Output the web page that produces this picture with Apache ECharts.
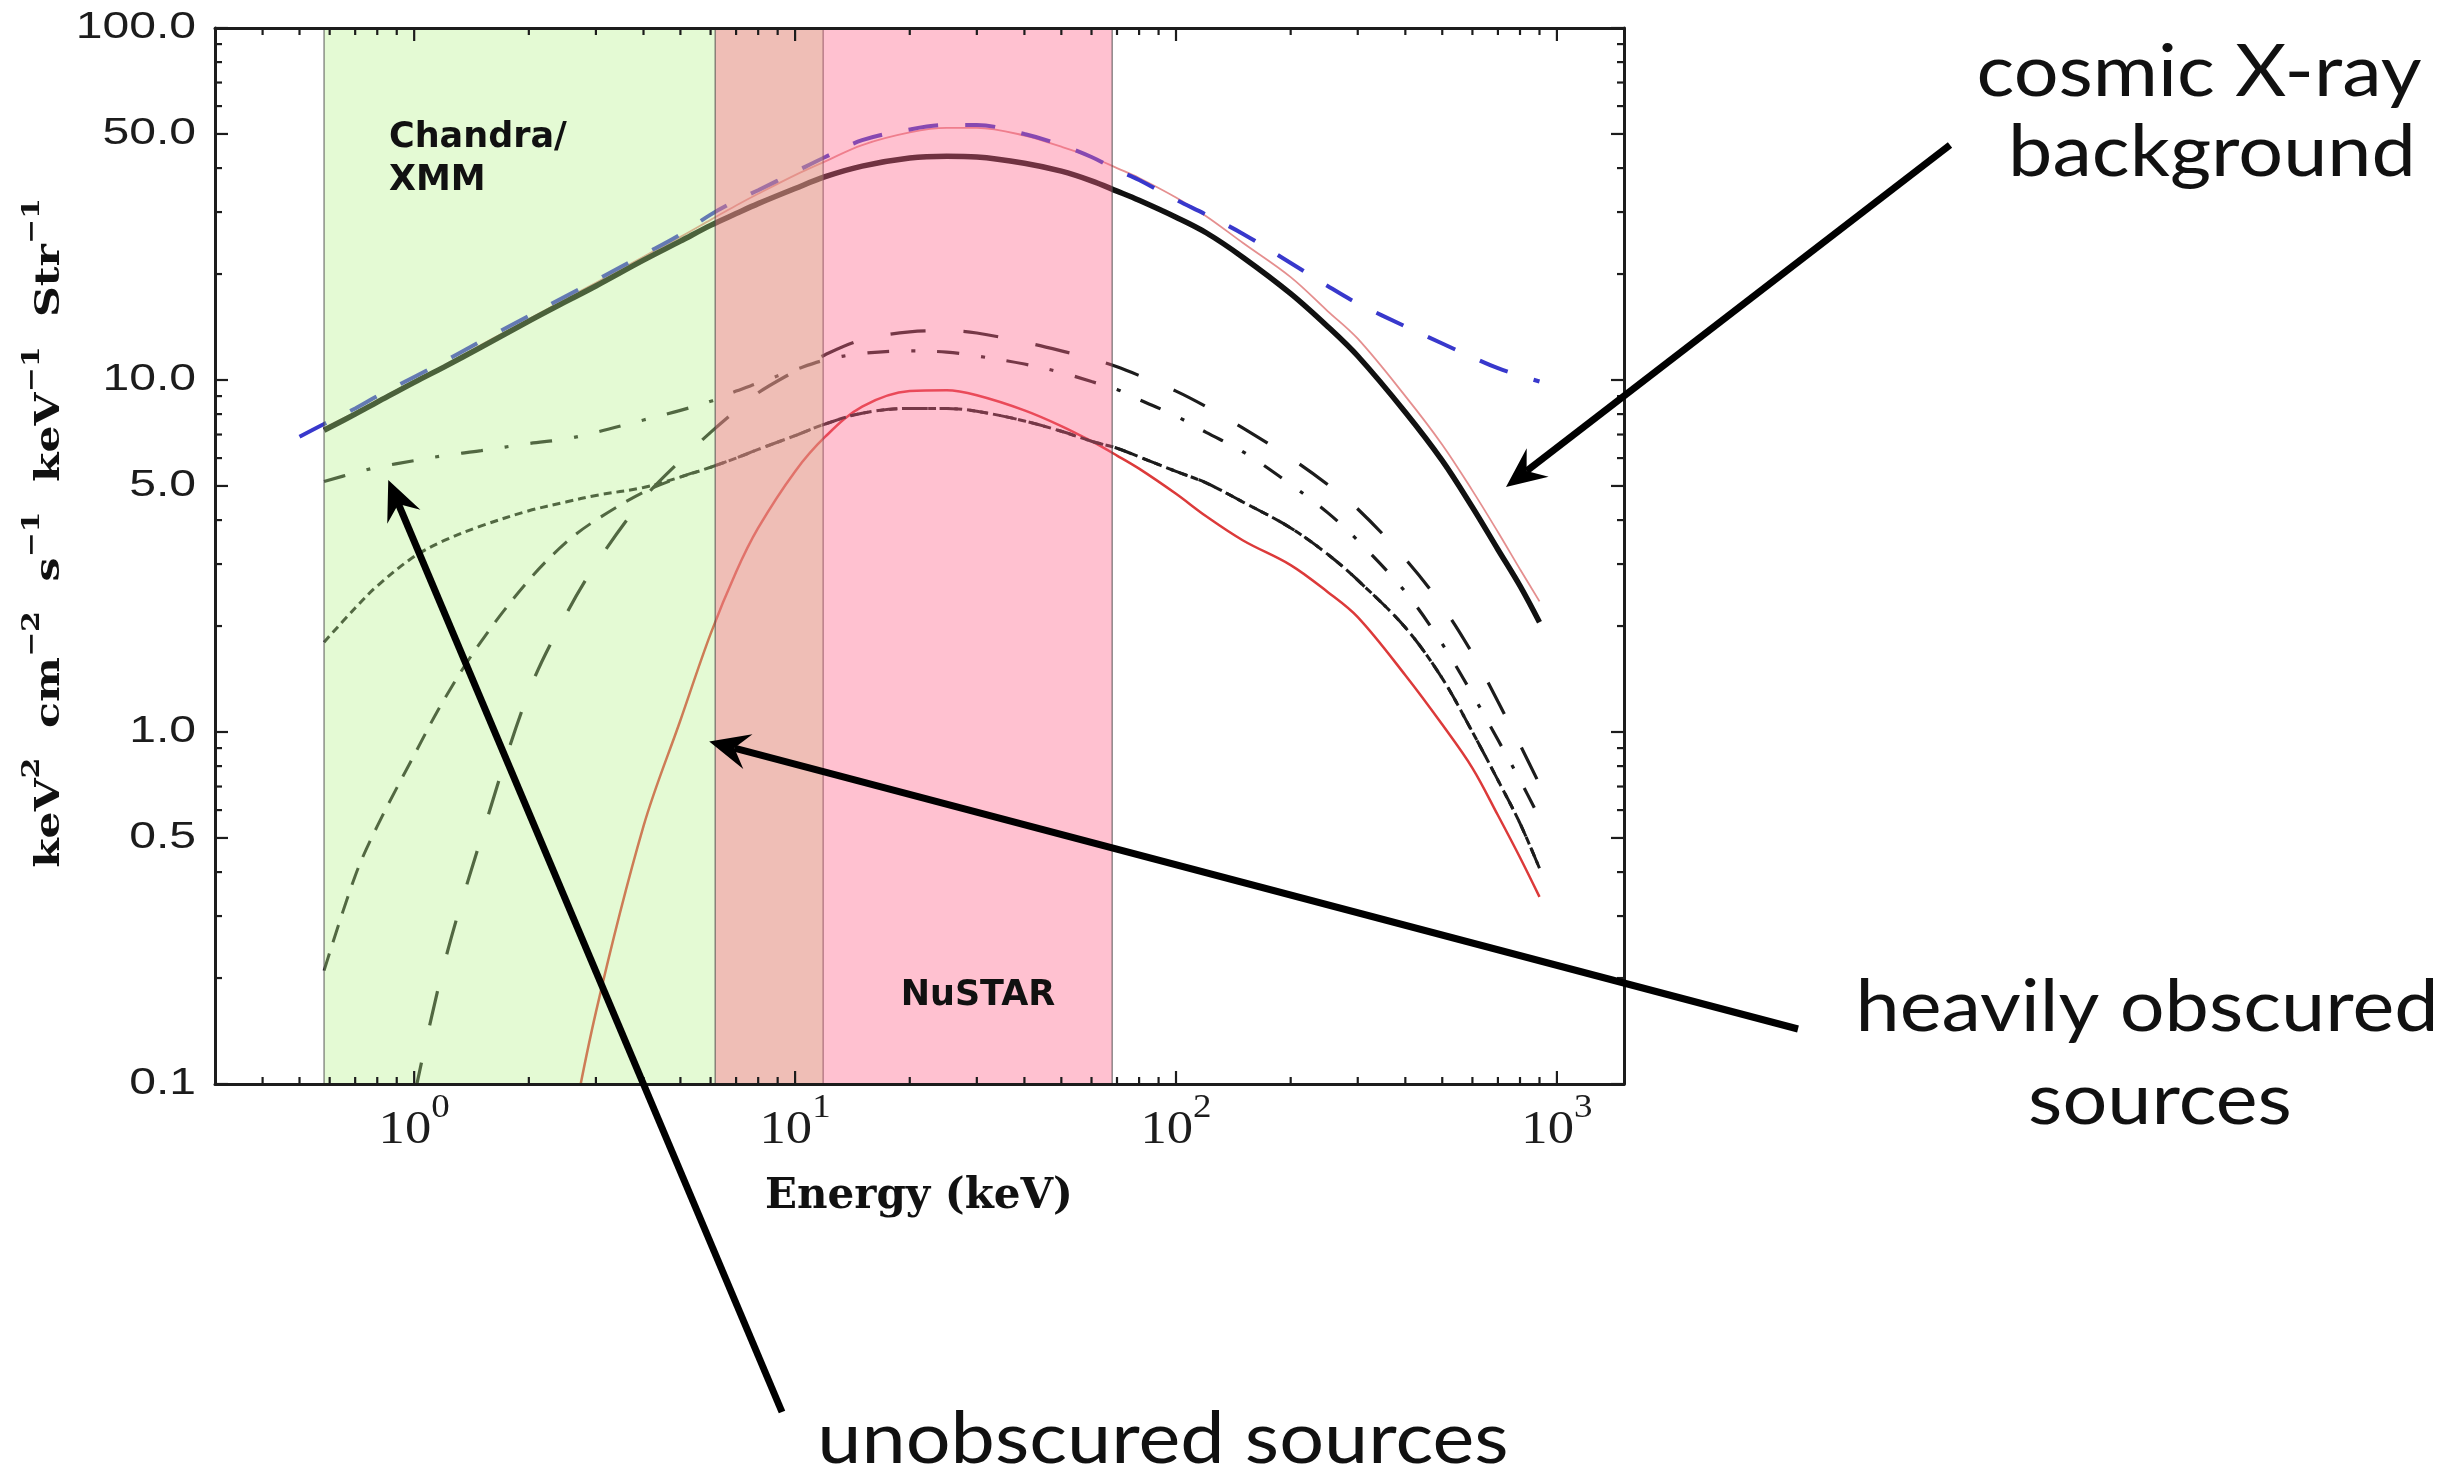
<!DOCTYPE html>
<html>
<head>
<meta charset="utf-8">
<script src="https://cdn.jsdelivr.net/npm/echarts@6/dist/echarts.min.js"></script>
<style>
html,body{margin:0;padding:0;background:#ffffff;}
#chart{width:2460px;height:1470px;}
</style>
</head>
<body>
<div id="chart"></div>
<script>
// ---------------- data ----------------
const energy = [0.5, 0.58, 0.7, 0.8, 1, 1.2, 1.5, 2, 2.5, 3, 4, 5, 6, 7, 8, 10, 12, 15, 20, 25, 30, 40, 50, 60, 70, 80, 100, 120, 150, 200, 250, 300, 400, 500, 600, 700, 800, 900];

// blue dashed: observed CXB
const cxbObserved = [6.9, 7.5, 8.3, 9.0, 10.2, 11.3, 12.9, 15.2, 17.3, 19.2, 22.7, 25.9, 29.5, 32.3, 34.6, 39, 43, 48, 51.5, 53, 53, 50, 46.5, 43, 39.5, 37, 32.5, 29.5, 26, 21.5, 18.5, 16.5, 14.2, 12.7, 11.6, 10.8, 10.3, 9.9];
// thin red solid: total model
const cxbTotal = [null, 7.3, 8.1, 8.75, 9.95, 11.0, 12.6, 14.9, 17.0, 18.9, 22.4, 25.5, 28.5, 31.3, 33.8, 38.2, 41.8, 46.5, 50.5, 52, 52, 49.5, 46, 43, 40, 37.5, 33, 29.2, 24.5, 19.6, 15.7, 13.1, 9.0, 6.55, 4.85, 3.7, 2.9, 2.35];
// thick black solid: AGN total
const agnTotal = [null, 7.2, 8.0, 8.65, 9.85, 10.9, 12.4, 14.7, 16.7, 18.5, 21.9, 24.8, 27.5, 29.7, 31.7, 35.0, 37.8, 40.5, 42.7, 43.2, 43.0, 41.3, 39.2, 36.8, 34.4, 32.4, 29.0, 26.2, 22.3, 17.6, 14.2, 11.7, 8.1, 5.9, 4.35, 3.3, 2.6, 2.05];
// dash-dot: unobscured sources
const unobscured = [null, 5.15, 5.45, 5.65, 5.9, 6.1, 6.3, 6.6, 6.8, 7.1, 7.7, 8.2, 8.7, 9.3, 9.8, 10.7, 11.4, 11.9, 12.1, 12.0, 11.7, 11.1, 10.5, 9.9, 9.4, 8.8, 7.9, 7.1, 6.25, 5.05, 4.2, 3.5, 2.5, 1.78, 1.28, 0.95, 0.73, 0.57];
// long dashes
const obscuredLong = [null, null, null, null, 0.092, 0.22, 0.5, 1.3, 2.15, 3.0, 4.6, 5.9, 7.1, 8.2, 9.2, 10.6, 11.8, 13.0, 13.7, 13.8, 13.6, 12.8, 12.1, 11.5, 10.9, 10.3, 9.3, 8.4, 7.3, 6.0, 5.05, 4.3, 3.1, 2.28, 1.67, 1.22, 0.92, 0.71];
// short dashes
const obscuredShort = [null, 0.21, 0.39, 0.54, 0.86, 1.24, 1.81, 2.7, 3.45, 4.0, 4.8, 5.3, 5.65, 6.0, 6.35, 6.95, 7.5, 8.05, 8.3, 8.3, 8.15, 7.65, 7.15, 6.7, 6.4, 6.05, 5.5, 5.1, 4.5, 3.8, 3.2, 2.7, 1.98, 1.42, 1.0, 0.73, 0.55, 0.41];
// dotted
const mildlyObscured = [null, 1.8, 2.25, 2.6, 3.15, 3.5, 3.85, 4.25, 4.5, 4.7, 4.95, 5.3, 5.65, 6.0, 6.35, 6.95, 7.5, 8.05, 8.3, 8.3, 8.15, 7.65, 7.15, 6.7, 6.4, 6.05, 5.5, 5.1, 4.5, 3.8, 3.2, 2.7, 1.98, 1.42, 1.0, 0.73, 0.55, 0.41];
// red solid: heavily obscured (Compton-thick)
const heavilyObscured = [null, null, null, null, null, null, null, null, 0.06, 0.16, 0.54, 1.08, 1.9, 2.85, 3.8, 5.5, 6.9, 8.4, 9.3, 9.35, 9.05, 8.2, 7.4, 6.7, 6.1, 5.6, 4.75, 4.1, 3.5, 2.98, 2.5, 2.12, 1.45, 1.05, 0.79, 0.58, 0.44, 0.34];

// instrument bands (keV)
const bandNames = ['Chandra/XMM', 'NuSTAR'];
const bandStart = [0.58, 6.17];
const bandEnd = [11.85, 68];

// axes and ticks
const X_MIN = 0.3, X_MAX = 1500, Y_MIN = 0.1, Y_MAX = 100;
const xMajorTicks = [1, 10, 100, 1000];
const xTickExponents = ['0', '1', '2', '3'];
const xMinorTicks = [0.4, 0.5, 0.6, 0.7, 0.8, 0.9, 2, 3, 4, 5, 6, 7, 8, 9, 20, 30, 40, 50, 60, 70, 80, 90, 200, 300, 400, 500, 600, 700, 800, 900];
const yMajorTicks = [0.1, 0.5, 1, 5, 10, 50, 100];
const yTickLabels = ['0.1', '0.5', '1.0', '5.0', '10.0', '50.0', '100.0'];
const yMinorTicks = [0.2, 0.3, 0.4, 0.6, 0.7, 0.8, 0.9, 2, 3, 4, 6, 7, 8, 9, 20, 30, 40, 60, 70, 80, 90];

// annotation arrow tips (data coordinates)
const arrowTipCxb = [735, 4.97];
const arrowTipHeavy = [5.95, 0.94];
const arrowTipUnobs = [0.855, 5.2];

// ---------------- chart ----------------
const chart = echarts.init(document.getElementById('chart'), null, {renderer: 'canvas'});

function pairs(arr) {
  return energy.map((e, i) => [e, arr[i]]).filter(p => p[1] != null);
}

const INK = '#1c1c1c';
const MAJ = 13, MIN = 7;

function tickLine(x1, y1, x2, y2) {
  return {type: 'line', shape: {x1, y1, x2, y2}, style: {stroke: INK, lineWidth: 2.2}};
}

const lineBase = {type: 'line', showSymbol: false, symbol: 'none', smooth: 0.35, silent: true, animation: false, z: 2, clip: true, xAxisIndex: 0, yAxisIndex: 0};

function axisCommon(extra) {
  return Object.assign({
    type: 'log', logBase: 10, z: 10, silent: true,
    axisLine: {show: true, lineStyle: {color: INK, width: 3}},
    axisTick: {show: false}, axisLabel: {show: false},
    splitLine: {show: false}, minorTick: {show: false}, minorSplitLine: {show: false}
  }, extra);
}

const xTickData = xMajorTicks.map((v, i) => [v, Y_MIN, 1, i]).concat(xMinorTicks.map(v => [v, Y_MIN, 0, -1]));
const yTickData = yMajorTicks.map((v, i) => [X_MIN, v, 1, i]).concat(yMinorTicks.map(v => [X_MIN, v, 0, -1]));

const bandFills = ['rgba(180,241,136,0.36)', 'rgba(255,100,138,0.40)'];

const option = {
  animation: false,
  backgroundColor: '#ffffff',
  grid: {left: 215, top: 28, width: 1409, height: 1056, containLabel: false},
  xAxis: [
    axisCommon({position: 'bottom', min: X_MIN, max: X_MAX}),
    axisCommon({position: 'top', min: X_MIN, max: X_MAX})
  ],
  yAxis: [
    axisCommon({position: 'left', min: Y_MIN, max: Y_MAX}),
    axisCommon({position: 'right', min: Y_MIN, max: Y_MAX})
  ],
  series: [
    Object.assign({}, lineBase, {name: 'total model', data: pairs(cxbTotal), lineStyle: {color: '#e58f8f', width: 1.8}}),
    Object.assign({}, lineBase, {name: 'AGN total', data: pairs(agnTotal), lineStyle: {color: '#111111', width: 5.5}}),
    Object.assign({}, lineBase, {name: 'heavily obscured', data: pairs(heavilyObscured), lineStyle: {color: '#dc3a3a', width: 2.5}}),
    Object.assign({}, lineBase, {name: 'mildly obscured', data: pairs(mildlyObscured), lineStyle: {color: INK, width: 3, type: [8, 5]}}),
    Object.assign({}, lineBase, {name: 'obscured short', data: pairs(obscuredShort), lineStyle: {color: INK, width: 3, type: [18, 12]}}),
    Object.assign({}, lineBase, {name: 'obscured long', data: pairs(obscuredLong), lineStyle: {color: INK, width: 3.2, type: [35, 38]}}),
    Object.assign({}, lineBase, {name: 'unobscured', data: pairs(unobscured), lineStyle: {color: INK, width: 3.2, type: [22, 22, 4, 22]}}),
    Object.assign({}, lineBase, {name: 'CXB observed', data: pairs(cxbObserved), lineStyle: {color: '#3838cc', width: 4, type: [30, 27]}}),
    // instrument bands, translucent overlay above the curves
    {
      type: 'custom', name: 'bands', coordinateSystem: 'cartesian2d', xAxisIndex: 0, yAxisIndex: 0,
      z: 3, silent: true, clip: false,
      data: bandStart.map((s, i) => [s, 1, bandEnd[i], i]),
      encode: {x: 0, y: 1},
      renderItem: function (params, api) {
        const i = api.value(3);
        const p0 = api.coord([api.value(0), Y_MAX]);
        const p1 = api.coord([api.value(2), Y_MIN]);
        return {
          type: 'rect',
          shape: {x: p0[0], y: p0[1], width: p1[0] - p0[0], height: p1[1] - p0[1]},
          style: {fill: bandFills[i], stroke: 'rgba(70,70,70,0.6)', lineWidth: 1.5}
        };
      }
    },
    // x ticks + labels
    {
      type: 'custom', name: 'xticks', coordinateSystem: 'cartesian2d', xAxisIndex: 0, yAxisIndex: 0,
      z: 8, silent: true, clip: false,
      data: xTickData, encode: {x: 0, y: 1},
      renderItem: function (params, api) {
        const v = api.value(0), major = api.value(2) === 1, idx = api.value(3);
        const b = api.coord([v, Y_MIN]), t = api.coord([v, Y_MAX]);
        const L = major ? MAJ : MIN;
        const children = [tickLine(b[0], b[1], b[0], b[1] - L), tickLine(t[0], t[1], t[0], t[1] + L)];
        if (major) {
          children.push({
            type: 'text', x: b[0], y: b[1] + 8, scaleX: 1.12,
            style: {
              text: '{b|10}{s|' + xTickExponents[idx] + '}',
              align: 'center', textAlign: 'center', verticalAlign: 'top', textVerticalAlign: 'top',
              fill: INK,
              rich: {
                b: {fontFamily: 'Liberation Serif', fontSize: 47, verticalAlign: 'bottom', lineHeight: 62, fill: INK},
                s: {fontFamily: 'Liberation Serif', fontSize: 33, verticalAlign: 'top', lineHeight: 62, fill: INK}
              }
            }
          });
        }
        return {type: 'group', children: children};
      }
    },
    // y ticks + labels
    {
      type: 'custom', name: 'yticks', coordinateSystem: 'cartesian2d', xAxisIndex: 0, yAxisIndex: 0,
      z: 8, silent: true, clip: false,
      data: yTickData, encode: {x: 0, y: 1},
      renderItem: function (params, api) {
        const v = api.value(1), major = api.value(2) === 1, idx = api.value(3);
        const l = api.coord([X_MIN, v]), r = api.coord([X_MAX, v]);
        const L = major ? MAJ : MIN;
        const children = [tickLine(l[0], l[1], l[0] + L, l[1]), tickLine(r[0], r[1], r[0] - L, r[1])];
        if (major) {
          children.push({
            type: 'text', x: l[0] - 19, y: l[1], scaleX: 1.3,
            style: {
              text: yTickLabels[idx],
              font: '37px "Liberation Sans"',
              align: 'right', textAlign: 'right', verticalAlign: 'middle', textVerticalAlign: 'middle',
              fill: INK
            }
          });
        }
        return {type: 'group', children: children};
      }
    }
  ]
};

chart.setOption(option);

// ---------------- annotations ----------------
function arrow(tail, tip) {
  const dx = tip[0] - tail[0], dy = tip[1] - tail[1];
  const len = Math.hypot(dx, dy);
  const ux = dx / len, uy = dy / len;
  const nx = -uy, ny = ux;
  const L = 40, W = 18, N = 26;
  const back = [tip[0] - ux * L, tip[1] - uy * L];
  const notch = [tip[0] - ux * N, tip[1] - uy * N];
  return [
    {type: 'line', z: 100, silent: true, shape: {x1: tail[0], y1: tail[1], x2: notch[0], y2: notch[1]}, style: {stroke: '#000', lineWidth: 7, lineCap: 'butt'}},
    {type: 'polygon', z: 101, silent: true, shape: {points: [tip, [back[0] + nx * W, back[1] + ny * W], notch, [back[0] - nx * W, back[1] - ny * W]]}, style: {fill: '#000'}}
  ];
}

function txt(x, y, text, font, opts) {
  const o = opts || {};
  return {
    type: 'text', z: 100, silent: true, x: x, y: y, rotation: o.rotation || 0, scaleX: o.scaleX || 1,
    style: {
      text: text, font: font, fill: o.fill || '#111',
      align: o.align || 'center', textAlign: o.align || 'center',
      verticalAlign: 'middle', textVerticalAlign: 'middle',
      rich: o.rich
    }
  };
}

const toPx = p => chart.convertToPixel({xAxisIndex: 0, yAxisIndex: 0}, p);
const annFont = '72px Lato';

const graphics = []
  .concat(arrow([1950, 145], toPx(arrowTipCxb)))
  .concat(arrow([1798, 1029], toPx(arrowTipHeavy)))
  .concat(arrow([782, 1412], toPx(arrowTipUnobs)))
  .concat([
    txt(2199, 73, 'cosmic X-ray', annFont, {scaleX: 1.1}),
    txt(2212, 153, 'background', annFont, {scaleX: 1.1}),
    txt(2147, 1008, 'heavily obscured', annFont, {scaleX: 1.1}),
    txt(2160, 1101, 'sources', annFont, {scaleX: 1.1}),
    txt(1163, 1440, 'unobscured sources', annFont, {scaleX: 1.1}),
    txt(389, 138, 'Chandra/', 'bold 35px "DejaVu Sans"', {align: 'left'}),
    txt(389, 181, 'XMM', 'bold 35px "DejaVu Sans"', {align: 'left'}),
    txt(978, 996, bandNames[1], 'bold 35px "DejaVu Sans"'),
    txt(919, 1197, 'Energy (keV)', 'bold 42px "DejaVu Serif"'),
    txt(44, 533, '{t|keV}{u|2}{t|  cm}{u|−2}{t|  s}{u|−1}{t|  keV}{u|−1}{t|  Str}{u|−1}', 'bold 34px "DejaVu Serif"', {
      rotation: Math.PI / 2, scaleX: 1.25,
      rich: {
        t: {fontFamily: 'DejaVu Serif', fontWeight: 'bold', fontSize: 34, verticalAlign: 'bottom', lineHeight: 46, fill: '#111'},
        u: {fontFamily: 'DejaVu Serif', fontWeight: 'bold', fontSize: 24, verticalAlign: 'top', lineHeight: 46, fill: '#111'}
      }
    })
  ]);

chart.setOption({graphic: {elements: graphics}});
</script>
</body>
</html>
